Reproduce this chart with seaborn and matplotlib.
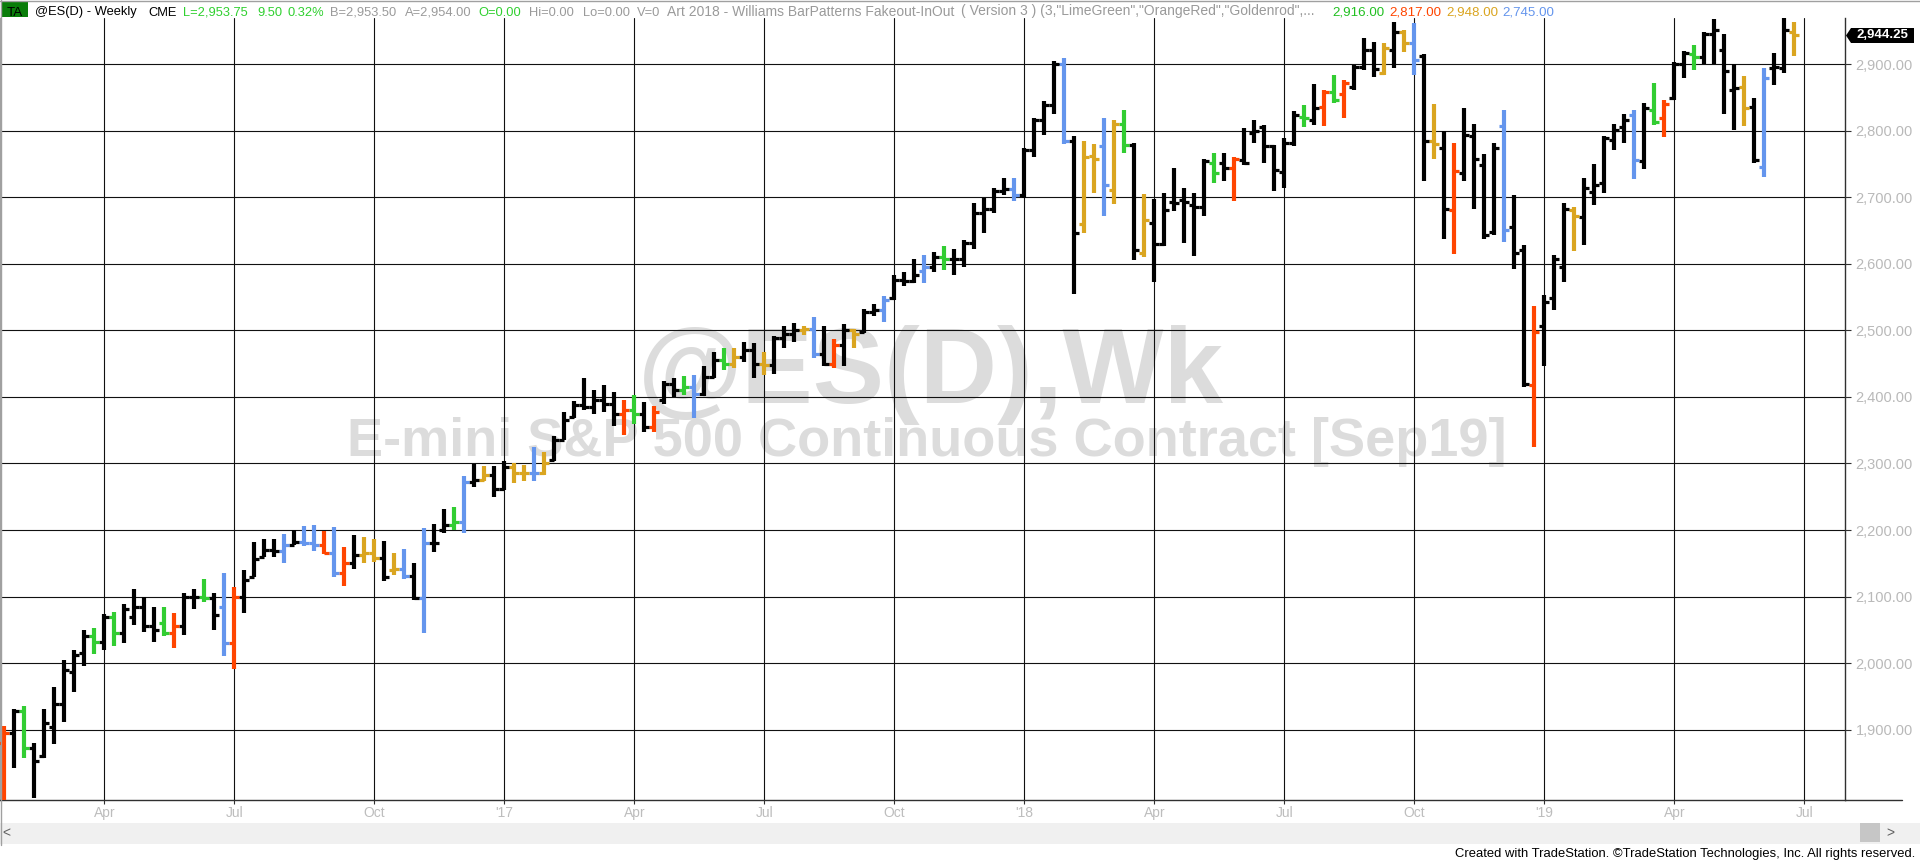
import matplotlib
matplotlib.use('Agg')
import matplotlib.pyplot as plt
from matplotlib.patches import Rectangle, Polygon
import numpy as np
import pandas as pd
import seaborn as sns

# Weekly bars, Friday dates (Jan 22 2016 .. Jun 28 2019)
week_ending = pd.date_range('2016-01-22', periods=180, freq='W-FRI')

opens = [
    1880, 1895, 1928, 1872, 1860, 1904, 1938, 1987, 2015, 2041,
    2032, 2070, 2045, 2070, 2085, 2055, 2060, 2045, 2055, 2100,
    2100, 2098, 2085, 2030, 2099, 2130, 2160, 2170, 2168, 2178,
    2182, 2181, 2178, 2166, 2136, 2150, 2162, 2165, 2158, 2140,
    2142, 2131, 2098, 2180, 2200, 2208, 2212, 2272, 2275, 2282,
    2262, 2295, 2285, 2285, 2285, 2305, 2335, 2370, 2388, 2385,
    2395, 2390, 2375, 2380, 2375, 2355, 2395, 2420, 2410, 2415,
    2405, 2430, 2455, 2450, 2460, 2470, 2450, 2448, 2488, 2495,
    2500, 2502, 2465, 2450, 2478, 2500, 2498, 2528, 2530, 2548,
    2576, 2575, 2590, 2595, 2611, 2608, 2608, 2632, 2676, 2682,
    2710, 2713, 2703, 2771, 2816, 2839, 2901, 2784, 2660, 2762,
    2777, 2711, 2811, 2779, 2616, 2661, 2630, 2693, 2696, 2688,
    2686, 2751, 2751, 2744, 2756, 2796, 2806, 2777, 2738, 2781,
    2821, 2816, 2836, 2859, 2855, 2866, 2896, 2921, 2887, 2922,
    2948, 2932, 2912, 2784, 2774, 2681, 2737, 2792, 2749, 2648,
    2807, 2656, 2621, 2418, 2506, 2548, 2596, 2681, 2671, 2708,
    2721, 2786, 2806, 2824, 2754, 2831, 2819, 2850, 2900, 2916,
    2911, 2946, 2922, 2862, 2866, 2836, 2746, 2894, 2894, 2948,
]
highs = [
    1905, 1931, 1935, 1880, 1931, 1964, 2005, 2019, 2049, 2053,
    2074, 2077, 2089, 2111, 2099, 2084, 2085, 2076, 2105, 2111,
    2126, 2105, 2135, 2114, 2140, 2182, 2186, 2187, 2194, 2200,
    2206, 2208, 2198, 2204, 2175, 2193, 2190, 2186, 2184, 2166,
    2171, 2151, 2203, 2209, 2232, 2235, 2281, 2299, 2296, 2296,
    2303, 2300, 2298, 2325, 2318, 2341, 2378, 2394, 2428, 2410,
    2418, 2408, 2395, 2403, 2393, 2386, 2424, 2428, 2431, 2433,
    2446, 2468, 2473, 2473, 2482, 2481, 2468, 2492, 2507, 2511,
    2507, 2520, 2506, 2487, 2510, 2502, 2532, 2540, 2551, 2583,
    2588, 2608, 2613, 2618, 2627, 2623, 2636, 2691, 2699, 2714,
    2729, 2729, 2774, 2820, 2845, 2905, 2909, 2792, 2785, 2780,
    2820, 2817, 2832, 2781, 2705, 2697, 2706, 2744, 2714, 2707,
    2757, 2766, 2767, 2761, 2805, 2817, 2809, 2779, 2789, 2830,
    2839, 2871, 2861, 2884, 2877, 2899, 2939, 2934, 2932, 2963,
    2952, 2962, 2916, 2841, 2800, 2782, 2834, 2811, 2765, 2782,
    2831, 2703, 2629, 2537, 2553, 2613, 2692, 2686, 2729, 2750,
    2792, 2811, 2826, 2832, 2842, 2872, 2846, 2904, 2920, 2929,
    2949, 2968, 2946, 2900, 2882, 2849, 2894, 2917, 2969, 2964,
]
lows = [
    1792, 1842, 1858, 1797, 1858, 1878, 1912, 1957, 1995, 2014,
    2019, 2026, 2030, 2057, 2046, 2031, 2040, 2023, 2042, 2082,
    2092, 2050, 2010, 1991, 2075, 2129, 2160, 2160, 2151, 2177,
    2176, 2168, 2164, 2130, 2116, 2142, 2150, 2152, 2123, 2132,
    2127, 2095, 2045, 2167, 2195, 2200, 2196, 2265, 2273, 2250,
    2260, 2270, 2273, 2273, 2283, 2303, 2335, 2368, 2380, 2375,
    2378, 2356, 2343, 2360, 2348, 2348, 2390, 2400, 2403, 2369,
    2401, 2428, 2440, 2443, 2453, 2428, 2433, 2435, 2473, 2483,
    2493, 2458, 2446, 2443, 2446, 2473, 2496, 2521, 2513, 2546,
    2567, 2571, 2571, 2588, 2591, 2583, 2596, 2623, 2647, 2676,
    2704, 2694, 2699, 2760, 2794, 2826, 2780, 2555, 2646, 2707,
    2672, 2690, 2766, 2606, 2611, 2573, 2627, 2679, 2632, 2612,
    2672, 2721, 2725, 2695, 2749, 2781, 2751, 2710, 2714, 2777,
    2806, 2809, 2807, 2842, 2820, 2862, 2892, 2881, 2884, 2894,
    2919, 2884, 2724, 2757, 2638, 2615, 2724, 2682, 2637, 2643,
    2633, 2593, 2415, 2325, 2446, 2531, 2573, 2620, 2628, 2688,
    2707, 2771, 2781, 2727, 2742, 2809, 2791, 2846, 2879, 2892,
    2901, 2901, 2826, 2802, 2807, 2751, 2731, 2869, 2887, 2912,
]
closes = [
    1895, 1928, 1872, 1853, 1910, 1938, 1990, 2012, 2041, 2032,
    2070, 2045, 2081, 2085, 2055, 2050, 2045, 2055, 2100, 2100,
    2098, 2072, 2030, 2099, 2125, 2157, 2170, 2168, 2178, 2182,
    2181, 2178, 2166, 2136, 2150, 2162, 2165, 2158, 2130, 2142,
    2131, 2098, 2180, 2180, 2208, 2212, 2272, 2275, 2282, 2262,
    2295, 2285, 2285, 2285, 2300, 2335, 2365, 2388, 2385, 2395,
    2390, 2375, 2380, 2375, 2355, 2378, 2420, 2410, 2415, 2405,
    2430, 2455, 2450, 2460, 2470, 2450, 2448, 2488, 2495, 2500,
    2502, 2465, 2450, 2478, 2500, 2495, 2528, 2530, 2545, 2576,
    2575, 2583, 2595, 2611, 2608, 2608, 2632, 2676, 2682, 2710,
    2713, 2703, 2771, 2816, 2839, 2901, 2784, 2647, 2761, 2758,
    2719, 2811, 2779, 2621, 2666, 2630, 2681, 2692, 2693, 2685,
    2754, 2736, 2744, 2757, 2751, 2800, 2777, 2741, 2782, 2824,
    2819, 2835, 2858, 2846, 2872, 2896, 2921, 2893, 2925, 2948,
    2932, 2906, 2784, 2780, 2683, 2739, 2794, 2757, 2643, 2774,
    2651, 2616, 2420, 2497, 2542, 2607, 2682, 2672, 2714, 2718,
    2789, 2801, 2816, 2756, 2834, 2814, 2841, 2901, 2917, 2911,
    2946, 2952, 2890, 2865, 2835, 2756, 2879, 2896, 2952, 2944.25,
]
# bar pattern per week: k none, g LimeGreen, r OrangeRed, y Goldenrod, b blue
patterns = ("rkgkkkkkkg" "kgkkkkgrkk" "gkbrkkkkbk" "bbrbrkyyky" "bkbkkgbkyk"
            "kyybykkkkk" "kkrgkrkkgb" "kkgykkykkk" "ybkrkykkbk" "kkbkgkkkkk"
            "kbkkkkbkyy" "bygkykkkkk" "kgkrkkkkkk" "gkrgrkkkyk" "ybkykrkkkk"
            "bkkrkkkykk" "kkkbkgrkkg" "kkkkykbkky")

quarter_labels = ['Apr', 'Jul', 'Oct', "'17", 'Apr', 'Jul', 'Oct', "'18",
                  'Apr', 'Jul', 'Oct', "'19", 'Apr', 'Jul']
price_ticks = [1900, 2000, 2100, 2200, 2300, 2400, 2500, 2600, 2700, 2800, 2900]

colmap = {'k': '#000000', 'g': '#32CD32', 'r': '#FF4500',
          'y': '#DAA520', 'b': '#6495ED'}

sns.set_theme(style='white')
plt.rcParams['font.family'] = ['Liberation Sans', 'DejaVu Sans']

W, H = 1920, 861
def fx(px):
    return px / W
def fy(py):
    return 1 - py / H

fig = plt.figure(figsize=(19.2, 8.61), dpi=100)
fig.patch.set_facecolor('white')

ax = fig.add_axes([0, fy(800), fx(1845), (800 - 18) / H])
ax.set_facecolor('white')

x = np.arange(len(closes))
bar_cols = [colmap[c] for c in patterns]
ax.vlines(x, lows, highs, colors=bar_cols, lw=3.0, zorder=3, capstyle='butt')
ax.hlines(opens, x - 0.5, x, colors=bar_cols, lw=2.3, zorder=3, capstyle='butt')
ax.hlines(closes, x, x + 0.5, colors=bar_cols, lw=2.3, zorder=3, capstyle='butt')

ax.set_xlim(-0.43, 184.07)
ax.set_ylim(1794.2, 2969.6)

# quarter gridlines at the first bar of Jan/Apr/Jul/Oct
all_weeks = pd.date_range('2016-01-22', periods=185, freq='W-FRI')
qpos = [i for i in range(1, len(all_weeks))
        if all_weeks[i].month != all_weeks[i - 1].month and all_weeks[i].month in (1, 4, 7, 10)]
ax.set_xticks(qpos)
ax.set_xticklabels(quarter_labels)
ax.set_yticks(price_ticks)
ax.set_yticklabels([f'{v:,.2f}' for v in price_ticks])
ax.yaxis.tick_right()
ax.set_axisbelow(True)
ax.grid(True, color='#111111', lw=0.8)

ax.tick_params(axis='x', direction='out', length=3, width=0.8, color='#303030',
               pad=1.5, labelsize=10, labelcolor='#bdbdbd', bottom=True)
ax.tick_params(axis='y', direction='out', length=4, width=0.8, color='#303030',
               pad=3.5, labelsize=10.5, labelcolor='#b9b9b9', right=True, left=False)

ax.spines['top'].set_visible(False)
ax.spines['left'].set_color('#a0a0a0')
ax.spines['right'].set_color('#303030')
ax.spines['bottom'].set_color('#303030')
for side in ['left', 'right', 'bottom']:
    ax.spines[side].set_linewidth(1.0)

# watermark
ax.text(fx(931), fy(403), '@ES(D),Wk', transform=fig.transFigure, ha='center',
        va='baseline', fontsize=77, fontweight='bold', color='#dcdcdc', zorder=0.2)
ax.text(fx(927), fy(456), 'E-mini S&P 500 Continuous Contract [Sep19]',
        transform=fig.transFigure, ha='center', va='baseline', fontsize=39,
        fontweight='bold', color='#dcdcdc', zorder=0.2)

# header line
fig.patches.append(Rectangle((fx(2), fy(17)), fx(26), (17 - 2) / H,
                             transform=fig.transFigure, facecolor='#0a7d0a', edgecolor='none'))
fig.text(fx(15), fy(15.5), 'TA', ha='center', va='baseline', fontsize=9.6, color='black')
header = [
    (35, '@ES(D) - Weekly', 'black', 9.3),
    (148, 'CME', 'black', 9.3),
    (183, 'L=2,953.75', '#2fd02f', 9.3),
    (257, '9.50', '#2fd02f', 9.3),
    (288, '0.32%', '#2fd02f', 9.3),
    (330, 'B=2,953.50', '#9a9a9a', 9.3),
    (405, 'A=2,954.00', '#9a9a9a', 9.3),
    (478, 'O=0.00', '#2fd02f', 9.3),
    (529, 'Hi=0.00', '#9a9a9a', 9.3),
    (583, 'Lo=0.00', '#9a9a9a', 9.3),
    (637, 'V=0', '#9a9a9a', 9.3),
    (667, 'Art 2018 - Williams BarPatterns Fakeout-InOut', '#9a9a9a', 10),
    (961, '( Version 3 ) (3,"LimeGreen","OrangeRed","Goldenrod",...', '#9a9a9a', 10),
    (1332, '2,916.00', '#22c022', 9.6),
    (1389, '2,817.00', '#FF4500', 9.6),
    (1446, '2,948.00', '#DAA520', 9.6),
    (1502, '2,745.00', '#6495ED', 9.6),
]
for px, txt, col, fs in header:
    fig.text(fx(px), fy(15.5), txt, ha='left', va='baseline', fontsize=fs, color=col)

# window frame lines
fig.add_artist(plt.Line2D([0, 1], [fy(0.5), fy(0.5)], transform=fig.transFigure,
                          color='#a0a0a0', lw=1))
fig.add_artist(plt.Line2D([fx(0.5), fx(0.5)], [fy(0), fy(845)], transform=fig.transFigure,
                          color='#a0a0a0', lw=1))
fig.add_artist(plt.Line2D([fx(1845), fx(1902)], [fy(800), fy(800)], transform=fig.transFigure,
                          color='#303030', lw=1))

# last price marker
yl = 35.5
fig.patches.append(Polygon([(fx(1846), fy(yl)), (fx(1851), fy(yl - 7.5)), (fx(1914), fy(yl - 7.5)),
                            (fx(1914), fy(yl + 7.5)), (fx(1851), fy(yl + 7.5))],
                           closed=True, transform=fig.transFigure, facecolor='black',
                           edgecolor='none'))
fig.text(fx(1882), fy(yl), '2,944.25', ha='center', va='center', fontsize=9.5,
         fontweight='bold', color='white')

# scrollbar
fig.patches.append(Rectangle((0, fy(844)), 1, (844 - 823) / H, transform=fig.transFigure,
                             facecolor='#f0f0f0', edgecolor='none'))
fig.patches.append(Rectangle((fx(1860), fy(842)), fx(20), (842 - 823) / H,
                             transform=fig.transFigure, facecolor='#c6c6c6', edgecolor='none'))
fig.text(fx(6), fy(833), '<', ha='center', va='center', fontsize=10, color='#606060')
fig.text(fx(1890), fy(833), '>', ha='center', va='center', fontsize=10, color='#606060')
fig.text(fx(1915), fy(857), 'Created with TradeStation. \u00a9TradeStation Technologies, Inc. '
         'All rights reserved.', ha='right', va='baseline', fontsize=9.4, color='black')

fig.savefig('out.png', dpi=100)
plt.close(fig)
